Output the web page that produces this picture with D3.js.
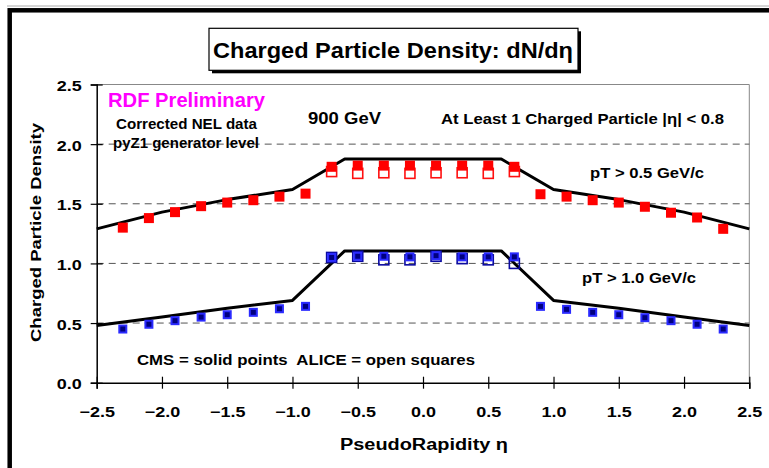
<!DOCTYPE html>
<html>
<head>
<meta charset="utf-8">
<script src="https://cdn.jsdelivr.net/npm/d3@7"></script>
<style>
body { margin: 0; background: #fff; }
text { font-family: "Liberation Sans", Arial, sans-serif; font-weight: bold; white-space: pre; }
</style>
</head>
<body>
<script>
var width = 769,
    height = 468;

// CMS points (solid squares)
var etaCMS = [-2.3, -2.1, -1.9, -1.7, -1.5, -1.3, -1.1, -0.9, -0.7, -0.5, -0.3, -0.1,
              0.1, 0.3, 0.5, 0.7, 0.9, 1.1, 1.3, 1.5, 1.7, 1.9, 2.1, 2.3];
var cmsPt05 = [1.30, 1.38, 1.43, 1.48, 1.51, 1.53, 1.56, 1.585, 1.81, 1.82, 1.82, 1.82,
               1.82, 1.82, 1.82, 1.81, 1.58, 1.56, 1.53, 1.51, 1.475, 1.425, 1.385, 1.29];
var cmsPt10 = [0.45, 0.49, 0.52, 0.55, 0.57, 0.59, 0.62, 0.64, 1.05, 1.06, 1.06, 1.055,
               1.065, 1.055, 1.055, 1.055, 0.64, 0.615, 0.59, 0.57, 0.545, 0.52, 0.49, 0.45];
var cmsErr = 0.025;

// ALICE points (open squares)
var etaALICE = [-0.7, -0.5, -0.3, -0.1, 0.1, 0.3, 0.5, 0.7];
var alicePt05 = [1.77, 1.755, 1.76, 1.755, 1.76, 1.76, 1.755, 1.77];
var alicePt10 = [1.05, 1.06, 1.03, 1.03, 1.06, 1.04, 1.03, 1.00];

// pyZ1 generator level (lines)
var etaPy = [-2.5, -2.0, -1.5, -1.0, -0.6, 0.6, 1.0, 1.5, 2.0, 2.5];
var pyPt05 = [1.29, 1.43, 1.535, 1.62, 1.875, 1.875, 1.62, 1.535, 1.43, 1.29];
var pyPt10 = [0.48, 0.55, 0.625, 0.69, 1.105, 1.105, 0.69, 0.625, 0.55, 0.48];

var xTicks = [-2.5, -2.0, -1.5, -1.0, -0.5, 0.0, 0.5, 1.0, 1.5, 2.0, 2.5];
var yTicks = [0.0, 0.5, 1.0, 1.5, 2.0, 2.5];
var gridVals = [0.5, 1.0, 1.5, 2.0];

var xscale = d3.scaleLinear().domain([-2.5, 2.5]).range([96.7, 749.3]);
var yscale = d3.scaleLinear().domain([0, 2.5]).range([382.7, 84.5]);

var svg = d3.select("body").append("svg")
    .attr("width", width)
    .attr("height", height);

svg.append("rect").attr("width", width).attr("height", height).attr("fill", "#fff");

// outer frame (cut at right and bottom)
svg.append("line").attr("x1", 7).attr("x2", width).attr("y1", 6).attr("y2", 6)
    .attr("stroke", "#aaa").attr("stroke-width", 1);
svg.append("rect")
    .attr("x", 9.7).attr("y", 10.3)
    .attr("width", 800).attr("height", 500)
    .attr("fill", "none").attr("stroke", "#000").attr("stroke-width", 4.5);

function label(txt, x, y, size, len, anchor, color) {
    var t = svg.append("text")
        .attr("x", x).attr("y", y)
        .attr("font-size", size)
        .attr("text-anchor", anchor || "start")
        .attr("fill", color || "#000")
        .text(txt);
    if (len) t.attr("textLength", len).attr("lengthAdjust", "spacingAndGlyphs");
    return t;
}

// title box with shadow
svg.append("rect").attr("x", 212).attr("y", 31.3).attr("width", 369).attr("height", 42).attr("fill", "#000");
svg.append("rect").attr("x", 209).attr("y", 28.3).attr("width", 369).attr("height", 42)
    .attr("fill", "#fff").attr("stroke", "#000").attr("stroke-width", 1.2);
label("Charged Particle Density: dN/d\u03b7", 393, 57.7, 22, 360, "middle");

// plot frame
svg.append("line").attr("x1", xscale(-2.5)).attr("x2", xscale(2.5))
    .attr("y1", yscale(2.5)).attr("y2", yscale(2.5)).attr("stroke", "#888");
svg.append("line").attr("x1", xscale(2.5)).attr("x2", xscale(2.5))
    .attr("y1", yscale(2.5)).attr("y2", yscale(0)).attr("stroke", "#888");

svg.append("g").selectAll("line")
    .data(gridVals).enter()
    .append("line")
    .attr("x1", xscale(-2.5)).attr("x2", xscale(2.5))
    .attr("y1", function(d) { return yscale(d); })
    .attr("y2", function(d) { return yscale(d); })
    .attr("stroke", "#555")
    .attr("stroke-dasharray", "7,5");

// axes
var yAxis = svg.append("g")
    .attr("transform", "translate(" + xscale(-2.5) + ",0)")
    .call(d3.axisLeft(yscale).tickValues(yTicks).tickFormat(d3.format(".1f")).tickSize(6).tickPadding(9));
var xAxis = svg.append("g")
    .attr("transform", "translate(0," + yscale(0) + ")")
    .call(d3.axisBottom(xscale).tickValues(xTicks).tickFormat(d3.format(".1f")).tickSize(6));

[yAxis, xAxis].forEach(function(ax) {
    ax.select(".domain").attr("stroke", "#000").attr("stroke-width", 1.5);
    ax.selectAll(".tick line").attr("stroke", "#000").attr("stroke-width", 1.2);
    ax.selectAll("text")
        .attr("font-family", "Liberation Sans, Arial, sans-serif")
        .attr("font-size", 14.5).attr("fill", "#000");
});
yAxis.selectAll(".tick line").attr("x1", 6);
yAxis.selectAll(".tick text").attr("dy", null).attr("y", 6);
xAxis.selectAll(".tick line").attr("y1", -6);
xAxis.selectAll(".tick text").attr("dy", null).attr("y", 34.8);
[yAxis, xAxis].forEach(function(ax) {
    ax.selectAll(".tick text").each(function() {
        var w = this.getComputedTextLength();
        d3.select(this).attr("textLength", w * 1.24).attr("lengthAdjust", "spacingAndGlyphs");
    });
});

// axis titles
label("PseudoRapidity \u03b7", 424, 450, 16, 168, "middle");
label("Charged Particle Density", 0, 0, 15.5, 219, "middle")
    .attr("x", null).attr("y", null)
    .attr("transform", "translate(41,232.5) rotate(-90)");

// pyZ1 lines
var line = d3.line()
    .x(function(d) { return xscale(d[0]); })
    .y(function(d) { return yscale(d[1]); });

[pyPt05, pyPt10].forEach(function(vals) {
    svg.append("path")
        .datum(etaPy.map(function(e, i) { return [e, vals[i]]; }))
        .attr("d", line)
        .attr("fill", "none")
        .attr("stroke", "#000")
        .attr("stroke-width", 3)
        .attr("stroke-linejoin", "round");
});

// ALICE open squares
function openSquares(vals, color, s) {
    svg.append("g").selectAll("rect")
        .data(etaALICE.map(function(e, i) { return [e, vals[i]]; })).enter()
        .append("rect")
        .attr("x", function(d) { return xscale(d[0]) - s / 2; })
        .attr("y", function(d) { return yscale(d[1]) - s / 2; })
        .attr("width", s).attr("height", s)
        .attr("fill", "none")
        .attr("stroke", color)
        .attr("stroke-width", 1.6);
}
openSquares(alicePt05, "#ff1010", 10);
openSquares(alicePt10, "#0a0aa0", 10);

// CMS solid squares
var red = etaCMS.map(function(e, i) { return [e, cmsPt05[i]]; });
svg.append("g").selectAll("rect")
    .data(red).enter()
    .append("rect")
    .attr("x", function(d) { return xscale(d[0]) - 5; })
    .attr("y", function(d) { return yscale(d[1]) - 5; })
    .attr("width", 10).attr("height", 10)
    .attr("fill", "#ff0000");

var blue = etaCMS.map(function(e, i) { return [e, cmsPt10[i]]; });
var bg = svg.append("g");
bg.selectAll("line")
    .data(blue).enter()
    .append("line")
    .attr("x1", function(d) { return xscale(d[0]); })
    .attr("x2", function(d) { return xscale(d[0]); })
    .attr("y1", function(d) { return yscale(d[1] - cmsErr); })
    .attr("y2", function(d) { return yscale(d[1] + cmsErr); })
    .attr("stroke", "#000").attr("stroke-width", 1.5);
bg.selectAll("rect.outer")
    .data(blue).enter()
    .append("rect")
    .attr("class", "outer")
    .attr("x", function(d) { return xscale(d[0]) - 4.5; })
    .attr("y", function(d) { return yscale(d[1]) - 4.5; })
    .attr("width", 9).attr("height", 9)
    .attr("fill", "#2a2aff");
bg.selectAll("rect.inner")
    .data(blue).enter()
    .append("rect")
    .attr("class", "inner")
    .attr("x", function(d) { return xscale(d[0]) - 2.5; })
    .attr("y", function(d) { return yscale(d[1]) - 2.5; })
    .attr("width", 5).attr("height", 5)
    .attr("fill", "#000080");

// annotations
label("RDF Preliminary", 108, 107.3, 20, 157, "start", "#ff00ff");
label("Corrected NEL data", 116, 129, 15, 141);
label("pyZ1 generator level", 113, 148.3, 15, 146);
label("900 GeV", 308, 124, 17, 73);
label("At Least 1 Charged Particle |\u03b7| < 0.8", 441, 124, 15.5, 283);
label("pT > 0.5 GeV/c", 590, 178, 15, 114);
label("pT > 1.0 GeV/c", 582, 283, 15, 114);
label("CMS = solid points  ALICE = open squares", 137, 364.7, 15, 338);
</script>
</body>
</html>
